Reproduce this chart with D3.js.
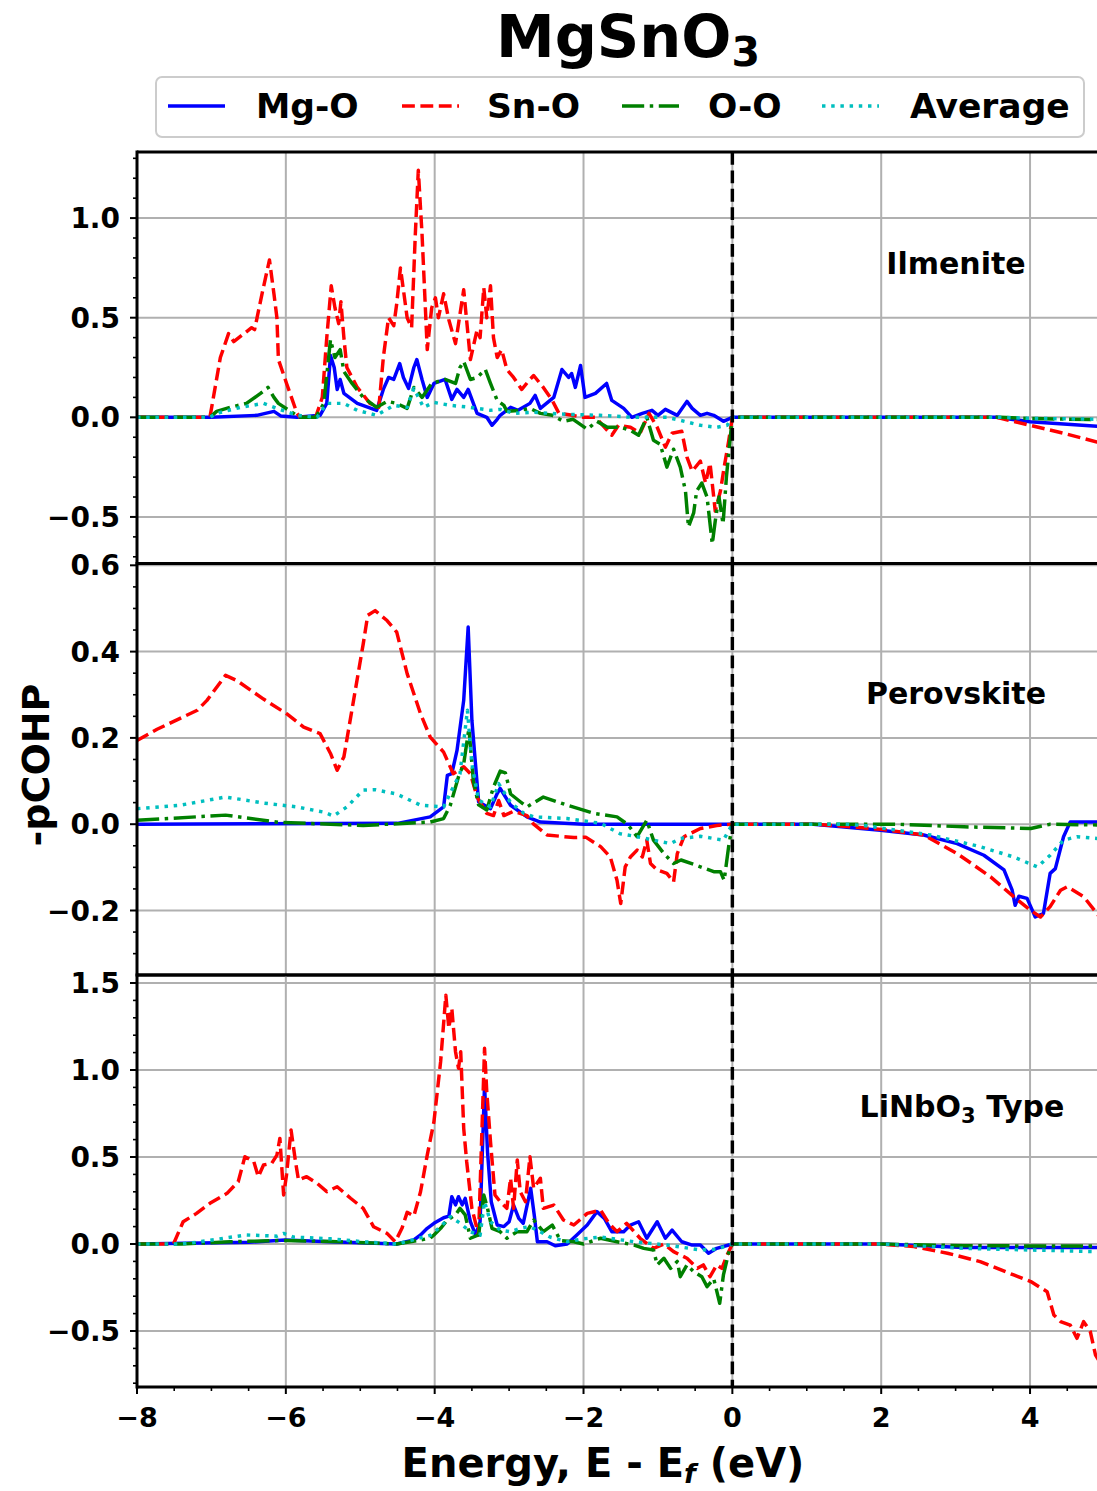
<!DOCTYPE html>
<html><head><meta charset="utf-8">
<script src="https://cdn.jsdelivr.net/npm/d3@7"></script>
<style>body{margin:0;background:#fff;} svg{display:block;font-family:"DejaVu Sans",sans-serif;font-weight:bold;}</style>
</head><body><svg id="chart" width="1097" height="1491"></svg>
<script>
// ---------------- DATA ----------------
const seriesNames = ["Mg-O", "Sn-O", "O-O", "Average"];
const panelNames = ["Ilmenite", "Perovskite", "LiNbO3 Type"];
const energyTicks = [-8, -6, -4, -2, 0, 2, 4];
const ilmTicks = [-0.5, 0.0, 0.5, 1.0];
const perTicks = [-0.2, 0.0, 0.2, 0.4, 0.6];
const linTicks = [-0.5, 0.0, 0.5, 1.0, 1.5];

// Ilmenite
const ilmMgO = [[-8,0],[-7.0,0],[-6.39,0.01],[-6.16,0.03],[-6.07,0.007],[-5.85,0],[-5.54,0.01],[-5.45,0.07],[-5.40,0.31],[-5.35,0.25],[-5.31,0.14],[-5.27,0.19],[-5.22,0.12],[-5.04,0.07],[-4.78,0.035],[-4.69,0.14],[-4.62,0.20],[-4.55,0.19],[-4.47,0.27],[-4.42,0.20],[-4.35,0.145],[-4.28,0.25],[-4.24,0.29],[-4.17,0.19],[-4.10,0.10],[-4.01,0.17],[-3.86,0.19],[-3.77,0.09],[-3.70,0.14],[-3.61,0.10],[-3.55,0.14],[-3.43,0.02],[-3.30,0],[-3.23,-0.04],[-3.16,-0.01],[-3.12,0.01],[-2.98,0.05],[-2.88,0.035],[-2.72,0.07],[-2.65,0.11],[-2.58,0.045],[-2.40,0.10],[-2.29,0.24],[-2.20,0.20],[-2.16,0.22],[-2.11,0.15],[-2.04,0.26],[-1.98,0.10],[-1.84,0.12],[-1.69,0.17],[-1.62,0.085],[-1.46,0.045],[-1.35,0],[-1.21,0.02],[-1.08,0.035],[-1.0,0.01],[-0.90,0.04],[-0.74,0.01],[-0.61,0.08],[-0.54,0.045],[-0.43,0.01],[-0.34,0.02],[-0.25,0.01],[-0.12,-0.02],[0,0],[3.55,0],[4.0,-0.022],[4.5,-0.035],[5,-0.047]];
const ilmSnO = [[-8,0],[-7.02,0],[-6.88,0.30],[-6.77,0.42],[-6.70,0.38],[-6.46,0.45],[-6.42,0.44],[-6.32,0.62],[-6.22,0.79],[-6.16,0.62],[-6.12,0.50],[-6.10,0.29],[-5.99,0.17],[-5.85,0.02],[-5.81,0],[-5.60,0],[-5.51,0.10],[-5.45,0.40],[-5.39,0.66],[-5.34,0.55],[-5.29,0.47],[-5.26,0.58],[-5.22,0.40],[-5.18,0.25],[-5.04,0.15],[-4.87,0.07],[-4.75,0.05],[-4.69,0.30],[-4.62,0.50],[-4.55,0.46],[-4.51,0.57],[-4.46,0.75],[-4.42,0.64],[-4.37,0.50],[-4.31,0.45],[-4.26,0.92],[-4.22,1.24],[-4.17,0.92],[-4.10,0.34],[-4.04,0.55],[-3.99,0.60],[-3.95,0.50],[-3.88,0.62],[-3.81,0.49],[-3.72,0.37],[-3.61,0.64],[-3.52,0.29],[-3.43,0.44],[-3.39,0.40],[-3.34,0.65],[-3.30,0.50],[-3.25,0.66],[-3.21,0.40],[-3.16,0.30],[-3.10,0.34],[-3.03,0.24],[-2.94,0.20],[-2.83,0.14],[-2.72,0.19],[-2.67,0.21],[-2.54,0.15],[-2.42,0.085],[-2.33,0.02],[-2.15,0.01],[-2.0,0],[-1.84,0],[-1.62,-0.09],[-1.53,-0.04],[-1.37,-0.05],[-1.24,-0.08],[-1.12,0.02],[-1.01,-0.05],[-0.90,-0.15],[-0.81,-0.08],[-0.68,-0.07],[-0.61,-0.20],[-0.54,-0.27],[-0.43,-0.22],[-0.36,-0.33],[-0.30,-0.23],[-0.23,-0.47],[-0.16,-0.37],[-0.11,-0.25],[-0.05,-0.12],[0,0],[3.55,0],[4.0,-0.04],[4.45,-0.08],[4.9,-0.124],[5,-0.135]];
const ilmOO = [[-8,0],[-7.02,0],[-6.93,0.03],[-6.75,0.05],[-6.53,0.07],[-6.34,0.12],[-6.24,0.15],[-6.16,0.10],[-6.10,0.07],[-5.94,0.03],[-5.81,0],[-5.60,0],[-5.49,0.07],[-5.40,0.39],[-5.34,0.30],[-5.27,0.34],[-5.22,0.23],[-5.11,0.17],[-4.96,0.10],[-4.78,0.05],[-4.64,0.08],[-4.51,0.07],[-4.37,0.045],[-4.28,0.15],[-4.17,0.10],[-4.04,0.17],[-3.86,0.19],[-3.72,0.17],[-3.66,0.25],[-3.61,0.28],[-3.52,0.19],[-3.43,0.20],[-3.32,0.24],[-3.25,0.17],[-3.16,0.085],[-3.07,0.06],[-3.03,0.03],[-2.85,0.035],[-2.72,0.045],[-2.58,0.02],[-2.42,0.01],[-2.27,-0.02],[-2.14,-0.01],[-1.95,-0.06],[-1.82,-0.02],[-1.68,-0.05],[-1.50,-0.05],[-1.37,-0.065],[-1.26,-0.09],[-1.15,0],[-1.06,-0.115],[-0.97,-0.135],[-0.88,-0.25],[-0.79,-0.16],[-0.70,-0.25],[-0.63,-0.37],[-0.59,-0.55],[-0.52,-0.48],[-0.48,-0.37],[-0.41,-0.33],[-0.34,-0.40],[-0.27,-0.635],[-0.23,-0.52],[-0.18,-0.40],[-0.125,-0.535],[-0.08,-0.30],[-0.036,-0.13],[0,0],[3.6,0],[4.0,-0.006],[5,-0.012]];
const ilmAvg = [[-8,0],[-7.02,0],[-6.93,0.02],[-6.61,0.05],[-6.30,0.07],[-6.12,0.045],[-5.85,0.01],[-5.58,0],[-5.45,0.07],[-5.22,0.07],[-5.04,0.035],[-4.78,0.01],[-4.55,0.06],[-4.37,0.05],[-4.28,0.145],[-4.15,0.05],[-4.01,0.075],[-3.79,0.06],[-3.52,0.05],[-3.25,0.035],[-3.12,0.04],[-2.94,0.02],[-2.67,0.025],[-2.22,0.015],[-1.78,0.01],[-1.33,0],[-0.88,0],[-0.70,-0.015],[-0.43,-0.04],[-0.21,-0.05],[-0.07,-0.04],[0,0],[3.6,0],[4.0,-0.005],[5,-0.01]];

// Perovskite
const perMgO = [[-8,0],[-4.5,0.002],[-4.06,0.017],[-3.88,0.04],[-3.83,0.113],[-3.77,0.117],[-3.70,0.171],[-3.61,0.287],[-3.55,0.457],[-3.50,0.241],[-3.41,0.052],[-3.25,0.036],[-3.16,0.071],[-3.12,0.083],[-2.98,0.044],[-2.76,0.017],[-2.58,0.005],[-2.0,0],[0,0],[1.09,0],[1.99,-0.014],[2.57,-0.025],[3.02,-0.045],[3.38,-0.072],[3.65,-0.106],[3.76,-0.153],[3.80,-0.188],[3.85,-0.167],[3.96,-0.172],[4.07,-0.215],[4.18,-0.207],[4.27,-0.114],[4.34,-0.103],[4.45,-0.029],[4.54,0.005],[5,0.005]];
const perSnO = [[-8,0.194],[-7.73,0.22],[-7.19,0.264],[-7.06,0.287],[-6.81,0.345],[-6.66,0.333],[-6.30,0.29],[-5.99,0.256],[-5.76,0.225],[-5.54,0.21],[-5.40,0.164],[-5.31,0.125],[-5.22,0.156],[-5.09,0.287],[-4.96,0.418],[-4.90,0.484],[-4.80,0.495],[-4.64,0.472],[-4.51,0.445],[-4.37,0.349],[-4.19,0.256],[-4.06,0.202],[-3.88,0.167],[-3.75,0.117],[-3.61,0.133],[-3.52,0.117],[-3.43,0.063],[-3.30,0.025],[-3.21,0.02],[-3.14,0.055],[-3.07,0.02],[-2.94,0.03],[-2.76,0.02],[-2.67,0],[-2.49,-0.025],[-2.13,-0.031],[-1.97,-0.03],[-1.77,-0.052],[-1.64,-0.076],[-1.55,-0.13],[-1.50,-0.184],[-1.44,-0.099],[-1.37,-0.076],[-1.28,-0.06],[-1.21,-0.076],[-1.15,-0.037],[-1.10,-0.091],[-1.01,-0.106],[-0.88,-0.114],[-0.79,-0.134],[-0.74,-0.068],[-0.65,-0.029],[-0.43,-0.01],[-0.21,-0.003],[0,0],[1.09,0],[1.5,-0.005],[2.0,-0.012],[2.57,-0.025],[3.02,-0.068],[3.47,-0.122],[3.78,-0.168],[4.01,-0.2],[4.14,-0.215],[4.27,-0.191],[4.41,-0.153],[4.50,-0.145],[4.72,-0.168],[4.90,-0.207],[5,-0.23]];
const perOO = [[-8,0.009],[-6.81,0.021],[-6.08,0.004],[-5.40,0],[-4.96,-0.003],[-4.06,0.005],[-3.88,0.013],[-3.79,0.044],[-3.68,0.11],[-3.61,0.14],[-3.54,0.222],[-3.48,0.10],[-3.41,0.045],[-3.30,0.033],[-3.21,0.086],[-3.12,0.123],[-3.05,0.119],[-2.98,0.07],[-2.85,0.052],[-2.76,0.04],[-2.54,0.063],[-2.22,0.044],[-1.86,0.025],[-1.55,0.017],[-1.41,0],[-1.28,-0.029],[-1.15,0.009],[-1.06,-0.037],[-0.92,-0.068],[-0.79,-0.091],[-0.69,-0.083],[-0.52,-0.093],[-0.25,-0.11],[-0.16,-0.11],[-0.11,-0.13],[-0.05,-0.052],[0,0],[2.2,0],[3.11,-0.006],[4.01,-0.01],[4.27,0],[5,-0.002]];
const perAvg = [[-8,0.036],[-7.42,0.044],[-6.81,0.063],[-6.30,0.049],[-5.85,0.04],[-5.49,0.028],[-5.36,0.019],[-5.18,0.04],[-4.96,0.079],[-4.80,0.08],[-4.51,0.07],[-4.19,0.044],[-3.88,0.04],[-3.77,0.079],[-3.66,0.117],[-3.56,0.264],[-3.50,0.14],[-3.41,0.056],[-3.25,0.04],[-3.14,0.094],[-2.98,0.05],[-2.80,0.025],[-2.67,0.017],[-2.22,0.013],[-1.77,0.002],[-1.51,-0.022],[-1.28,-0.029],[-1.06,-0.037],[-0.83,-0.045],[-0.70,-0.033],[-0.43,-0.028],[-0.12,-0.037],[0,0],[1.5,0],[1.77,-0.003],[2.66,-0.025],[3.33,-0.052],[3.78,-0.076],[4.10,-0.099],[4.27,-0.072],[4.45,-0.037],[4.63,-0.029],[4.90,-0.033],[5,-0.034]];

// LiNbO3 type
const linMgO = [[-8,0],[-6.5,0.01],[-6.01,0.023],[-5.5,0.015],[-4.51,0],[-4.28,0.023],[-4.19,0.052],[-4.10,0.09],[-4.01,0.119],[-3.88,0.151],[-3.81,0.16],[-3.77,0.272],[-3.72,0.225],[-3.68,0.272],[-3.63,0.225],[-3.59,0.262],[-3.52,0.128],[-3.45,0.052],[-3.39,0.128],[-3.33,0.914],[-3.29,0.53],[-3.24,0.243],[-3.16,0.109],[-3.07,0.10],[-3.00,0.128],[-2.94,0.224],[-2.87,0.147],[-2.81,0.119],[-2.71,0.32],[-2.66,0.16],[-2.62,0.013],[-2.49,0.013],[-2.38,-0.01],[-2.22,0],[-2.09,0.052],[-1.95,0.109],[-1.82,0.186],[-1.72,0.147],[-1.62,0.071],[-1.46,0.071],[-1.37,0.109],[-1.26,0.128],[-1.15,0.033],[-1.01,0.128],[-0.90,0.033],[-0.81,0.08],[-0.68,0.013],[-0.54,-0.006],[-0.43,-0.006],[-0.32,-0.053],[-0.21,-0.025],[0,0],[2.0,0],[3.11,-0.02],[5,-0.02]];
const linSnO = [[-8,0],[-7.51,0],[-7.38,0.128],[-7.20,0.176],[-7.02,0.234],[-6.79,0.291],[-6.64,0.358],[-6.55,0.502],[-6.43,0.473],[-6.37,0.387],[-6.30,0.454],[-6.19,0.464],[-6.12,0.511],[-6.08,0.607],[-6.03,0.282],[-5.99,0.40],[-5.93,0.655],[-5.87,0.473],[-5.83,0.368],[-5.72,0.387],[-5.58,0.349],[-5.45,0.301],[-5.31,0.329],[-5.13,0.263],[-4.96,0.205],[-4.82,0.099],[-4.64,0.061],[-4.53,0.013],[-4.44,0.09],[-4.37,0.182],[-4.28,0.16],[-4.19,0.3],[-4.10,0.511],[-4.01,0.703],[-3.92,1.048],[-3.85,1.43],[-3.81,1.24],[-3.77,1.355],[-3.72,1.105],[-3.68,1.01],[-3.65,1.105],[-3.61,0.665],[-3.57,0.473],[-3.50,0.205],[-3.41,0.052],[-3.37,0.588],[-3.33,1.125],[-3.30,0.875],[-3.25,0.588],[-3.19,0.282],[-3.12,0.243],[-3.03,0.205],[-2.98,0.378],[-2.94,0.205],[-2.89,0.483],[-2.85,0.3],[-2.78,0.243],[-2.72,0.502],[-2.67,0.32],[-2.58,0.378],[-2.54,0.205],[-2.40,0.224],[-2.27,0.138],[-2.13,0.109],[-1.95,0.176],[-1.77,0.195],[-1.66,0.119],[-1.55,0.071],[-1.42,0.119],[-1.24,0.033],[-1.06,-0.025],[-0.92,0],[-0.79,-0.044],[-0.61,-0.082],[-0.47,-0.14],[-0.39,-0.12],[-0.30,-0.188],[-0.21,-0.12],[-0.14,-0.14],[-0.07,-0.063],[0,0],[1.99,0],[2.44,-0.015],[2.89,-0.053],[3.33,-0.101],[3.78,-0.178],[4.01,-0.216],[4.23,-0.274],[4.32,-0.408],[4.41,-0.446],[4.54,-0.466],[4.63,-0.542],[4.72,-0.446],[4.81,-0.504],[4.88,-0.638],[5,-0.72]];
const linOO = [[-8,0],[-7.4,0],[-6.75,0.013],[-6.07,0.02],[-5.40,0.015],[-4.51,0],[-4.06,0.033],[-4.01,0.052],[-3.92,0.09],[-3.83,0.138],[-3.72,0.167],[-3.66,0.205],[-3.59,0.167],[-3.52,0.033],[-3.41,0.052],[-3.34,0.282],[-3.29,0.205],[-3.23,0.09],[-3.12,0.071],[-3.03,0.033],[-2.89,0.071],[-2.76,0.071],[-2.67,0.138],[-2.54,0.071],[-2.42,0.109],[-2.31,0.02],[-2.13,0.013],[-2.00,0],[-1.77,0.033],[-1.55,0.013],[-1.32,-0.006],[-1.19,-0.025],[-1.06,-0.034],[-1.01,-0.12],[-0.92,-0.082],[-0.83,-0.14],[-0.74,-0.1],[-0.70,-0.188],[-0.61,-0.12],[-0.52,-0.159],[-0.41,-0.188],[-0.34,-0.245],[-0.25,-0.2],[-0.17,-0.341],[-0.12,-0.178],[-0.05,-0.05],[0,0],[2.0,0],[3.11,-0.01],[5,-0.012]];
const linAvg = [[-8,0],[-7.42,0],[-7.2,0.01],[-6.53,0.052],[-6.12,0.045],[-6.03,0.061],[-5.9,0.04],[-5.4,0.03],[-4.96,0.013],[-4.51,0],[-4.06,0.05],[-3.92,0.10],[-3.79,0.157],[-3.66,0.12],[-3.52,0.07],[-3.39,0.05],[-3.33,0.243],[-3.25,0.128],[-3.12,0.08],[-2.98,0.07],[-2.85,0.09],[-2.72,0.10],[-2.58,0.07],[-2.45,0.04],[-2.22,0.013],[-2.00,0.03],[-1.77,0.04],[-1.32,0.013],[-0.88,-0.006],[-0.43,-0.034],[-0.21,-0.03],[0,0],[2.0,0],[3.11,-0.025],[4.9,-0.044],[5,-0.045]];

// ---------------- LAYOUT / STYLE ----------------
const svg = d3.select("#chart");
const xLeft = 137, unitPx = 74.42;
const x = d3.scaleLinear().domain([-8, 5]).range([xLeft, xLeft + 13 * unitPx]);
const xMax = xLeft + 13 * unitPx;

const styles = [
  {color: "#0000ff", dash: null},
  {color: "#ff0000", dash: "12.85,5.55"},
  {color: "#008000", dash: "22.2,5.55,3.47,5.55"},
  {color: "#00bfbf", dash: "3.47,5.73"}
];

const panels = [
  {name: panelNames[0], top: 152, bottom: 563.5, domain: [-0.7337, 1.3317], ticks: ilmTicks, minor: 0.1, fmt: d3.format(".1f"), series: [ilmMgO, ilmSnO, ilmOO, ilmAvg], lx: 956, ly: 274},
  {name: panelNames[1], top: 563.5, bottom: 975, domain: [-0.3495, 0.6042], ticks: perTicks, minor: 0.05, fmt: d3.format(".1f"), series: [perMgO, perSnO, perOO, perAvg], lx: 956, ly: 704},
  {name: panelNames[2], top: 975, bottom: 1387, domain: [-0.8218, 1.546], ticks: linTicks, minor: 0.1, fmt: d3.format(".1f"), series: [linMgO, linSnO, linOO, linAvg], lx: 962, ly: 1117}
];

const minus = s => s.replace("-", "\u2212");
const gridColor = "#b0b0b0";

panels.forEach((p, i) => {
  const y = d3.scaleLinear().domain(p.domain).range([p.bottom, p.top]);
  const g = svg.append("g");
  const clipId = "clip" + i;
  svg.append("clipPath").attr("id", clipId).append("rect")
    .attr("x", xLeft).attr("y", p.top).attr("width", xMax - xLeft).attr("height", p.bottom - p.top);
  const inner = g.append("g").attr("clip-path", `url(#${clipId})`);

  // grid
  inner.selectAll(".vg").data(energyTicks).join("line")
    .attr("x1", d => x(d)).attr("x2", d => x(d)).attr("y1", p.top).attr("y2", p.bottom)
    .attr("stroke", gridColor).attr("stroke-width", 2);
  inner.selectAll(".hg").data(p.ticks).join("line")
    .attr("x1", xLeft).attr("x2", xMax).attr("y1", d => y(d)).attr("y2", d => y(d))
    .attr("stroke", gridColor).attr("stroke-width", 2);

  // lines
  const line = d3.line().x(d => x(d[0])).y(d => y(d[1]));
  p.series.forEach((s, k) => {
    inner.append("path").datum(s).attr("d", line)
      .attr("fill", "none").attr("stroke", styles[k].color).attr("stroke-width", 3.47)
      .attr("stroke-dasharray", styles[k].dash).attr("stroke-linejoin", "round");
  });

  // Fermi level
  inner.append("line").attr("x1", x(0)).attr("x2", x(0)).attr("y1", p.top).attr("y2", p.bottom)
    .attr("stroke", "#000").attr("stroke-width", 3.47).attr("stroke-dasharray", "12.85,5.55");

  // y axis ticks
  const yMinor = d3.range(Math.ceil(p.domain[0] / p.minor) * p.minor, p.domain[1], p.minor)
    .filter(v => !p.ticks.some(t => Math.abs(t - v) < 1e-6));
  g.selectAll(".ymin").data(yMinor).join("line")
    .attr("x1", xLeft - 4).attr("x2", xLeft).attr("y1", d => y(d)).attr("y2", d => y(d))
    .attr("stroke", "#000").attr("stroke-width", 1.6);
  g.selectAll(".ymaj").data(p.ticks).join("line")
    .attr("x1", xLeft - 7).attr("x2", xLeft).attr("y1", d => y(d)).attr("y2", d => y(d))
    .attr("stroke", "#000").attr("stroke-width", 2);
  g.selectAll(".ylab").data(p.ticks).join("text")
    .attr("x", xLeft - 17).attr("y", d => y(d)).attr("dy", "0.36em")
    .attr("text-anchor", "end").attr("font-size", 28)
    .text(d => minus(p.fmt(d)));

  // panel label
  const lab = g.append("text").attr("x", p.lx).attr("y", p.ly).attr("text-anchor", "middle").attr("font-size", 30);
  if (p.name.indexOf("O3") >= 0) {
    lab.append("tspan").text("LiNbO");
    lab.append("tspan").attr("font-size", 21).attr("dy", 6).text("3");
    lab.append("tspan").attr("dy", -6).text(" Type");
  } else lab.text(p.name);

  // spines
  g.append("line").attr("x1", xLeft).attr("x2", xMax).attr("y1", p.top).attr("y2", p.top).attr("stroke", "#000").attr("stroke-width", 3);
  g.append("line").attr("x1", xLeft).attr("x2", xMax).attr("y1", p.bottom).attr("y2", p.bottom).attr("stroke", "#000").attr("stroke-width", 3);
  g.append("line").attr("x1", xLeft).attr("x2", xLeft).attr("y1", p.top - 1.5).attr("y2", p.bottom + 1.5).attr("stroke", "#000").attr("stroke-width", 3);
});

// x axis (bottom panel)
const xb = panels[2].bottom;
const xMinor = d3.range(-8, 5.01, 0.5).filter(v => !energyTicks.includes(v));
svg.selectAll(".xmin").data(xMinor).join("line")
  .attr("x1", d => x(d)).attr("x2", d => x(d)).attr("y1", xb).attr("y2", xb + 4)
  .attr("stroke", "#000").attr("stroke-width", 1.6);
svg.selectAll(".xmaj").data(energyTicks).join("line")
  .attr("x1", d => x(d)).attr("x2", d => x(d)).attr("y1", xb).attr("y2", xb + 7)
  .attr("stroke", "#000").attr("stroke-width", 2);
svg.selectAll(".xlab").data(energyTicks).join("text")
  .attr("x", d => x(d)).attr("y", 1427).attr("text-anchor", "middle").attr("font-size", 27)
  .text(d => minus(String(d)));

// axis titles
const xt = svg.append("text").attr("x", 603).attr("y", 1477).attr("text-anchor", "middle").attr("font-size", 40);
xt.append("tspan").text("Energy, E - E");
xt.append("tspan").attr("font-size", 27).attr("font-style", "italic").attr("dy", 6).text("f");
xt.append("tspan").attr("dy", -6).text(" (eV)");

svg.append("text").attr("transform", "translate(49,765) rotate(-90)")
  .attr("text-anchor", "middle").attr("font-size", 38).text("-pCOHP");

// title
const tt = svg.append("text").attr("x", 628).attr("y", 57).attr("text-anchor", "middle").attr("font-size", 59);
tt.append("tspan").text("MgSnO");
tt.append("tspan").attr("font-size", 41).attr("dy", 9).text("3");

// legend
const leg = svg.append("g");
leg.append("rect").attr("x", 156).attr("y", 77).attr("width", 928).attr("height", 60).attr("rx", 6)
  .attr("fill", "#fff").attr("stroke", "#cccccc").attr("stroke-width", 2);
const legPos = [{x1: 168, tx: 256}, {x1: 402, tx: 487}, {x1: 622, tx: 708}, {x1: 822, tx: 910}];
seriesNames.forEach((n, k) => {
  leg.append("line").attr("x1", legPos[k].x1).attr("x2", legPos[k].x1 + 57).attr("y1", 106).attr("y2", 106)
    .attr("stroke", styles[k].color).attr("stroke-width", 3.47).attr("stroke-dasharray", styles[k].dash);
  leg.append("text").attr("x", legPos[k].tx).attr("y", 118).attr("font-size", 34.5).text(n);
});
</script></body></html>
